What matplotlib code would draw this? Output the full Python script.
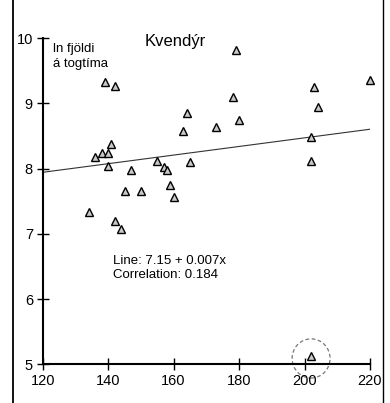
import numpy as np
import matplotlib
matplotlib.use('Agg')
import matplotlib.pyplot as plt
from matplotlib.patches import Ellipse
from matplotlib.lines import Line2D

plt.rcParams['font.family'] = ['Liberation Sans', 'DejaVu Sans']

# length (x) vs ln number per tow hour (y)
x = [134, 136, 138, 139, 140, 141, 140, 142, 142, 144,
     145, 147, 150, 155, 157, 158, 159, 160, 163, 164,
     165, 173, 178, 179, 180, 202, 202, 203, 204, 220, 202]
y = [7.33, 8.17, 8.24, 9.32, 8.24, 8.38, 8.04, 9.26, 7.20, 7.07,
     7.65, 7.98, 7.65, 8.12, 8.02, 7.97, 7.74, 7.57, 8.58, 8.85,
     8.10, 8.64, 9.09, 9.81, 8.74, 8.48, 8.11, 9.25, 8.95, 9.35, 5.13]
intercept = 7.15
slope = 0.0066
outlier = (202, 5.09)

fig = plt.figure(figsize=(3.9, 4.03), dpi=100)
ax = fig.add_axes([0.1095, 0.096, 0.8392, 0.8097])

xl = np.array([120, 220])
ax.plot(xl, intercept + slope * xl, color='#333333', lw=0.8)
ax.plot(x, y, linestyle='none', marker='^', ms=5.5, mfc='#c8c8c8',
        mec='black', mew=1.0, clip_on=False, zorder=3)

ax.add_patch(Ellipse(outlier, 11.6, 0.6, fill=False, ls=(0, (3, 2)),
                     ec='#777777', lw=0.9, clip_on=False))

ax.set_xlim(120, 220)
ax.set_ylim(5, 10)
ax.set_xticks([120, 140, 160, 180, 200, 220])
ax.set_yticks([5, 6, 7, 8, 9, 10])
for s in ['top', 'right']:
    ax.spines[s].set_visible(False)
for s in ['left', 'bottom']:
    ax.spines[s].set_linewidth(1.5)
ax.tick_params(direction='inout', length=8, width=1, labelsize=10.5, pad=3)

ax.text(160.5, 9.95, 'Kvendýr', fontsize=12, ha='center', va='center')
ax.text(123, 9.92, 'ln fjöldi\ná togtíma', fontsize=9.5, ha='left', va='top',
        linespacing=1.35)
ax.text(141.5, 6.67, 'Line: 7.15 + 0.007x\nCorrelation: 0.184', fontsize=9.5,
        ha='left', va='top', linespacing=1.15)

fig.add_artist(Line2D([13 / 390, 13 / 390], [0, 1], color='black', lw=1.3))
fig.add_artist(Line2D([383 / 390, 383 / 390], [0, 1], color='black', lw=1.0))

fig.savefig('out.png', dpi=100)
